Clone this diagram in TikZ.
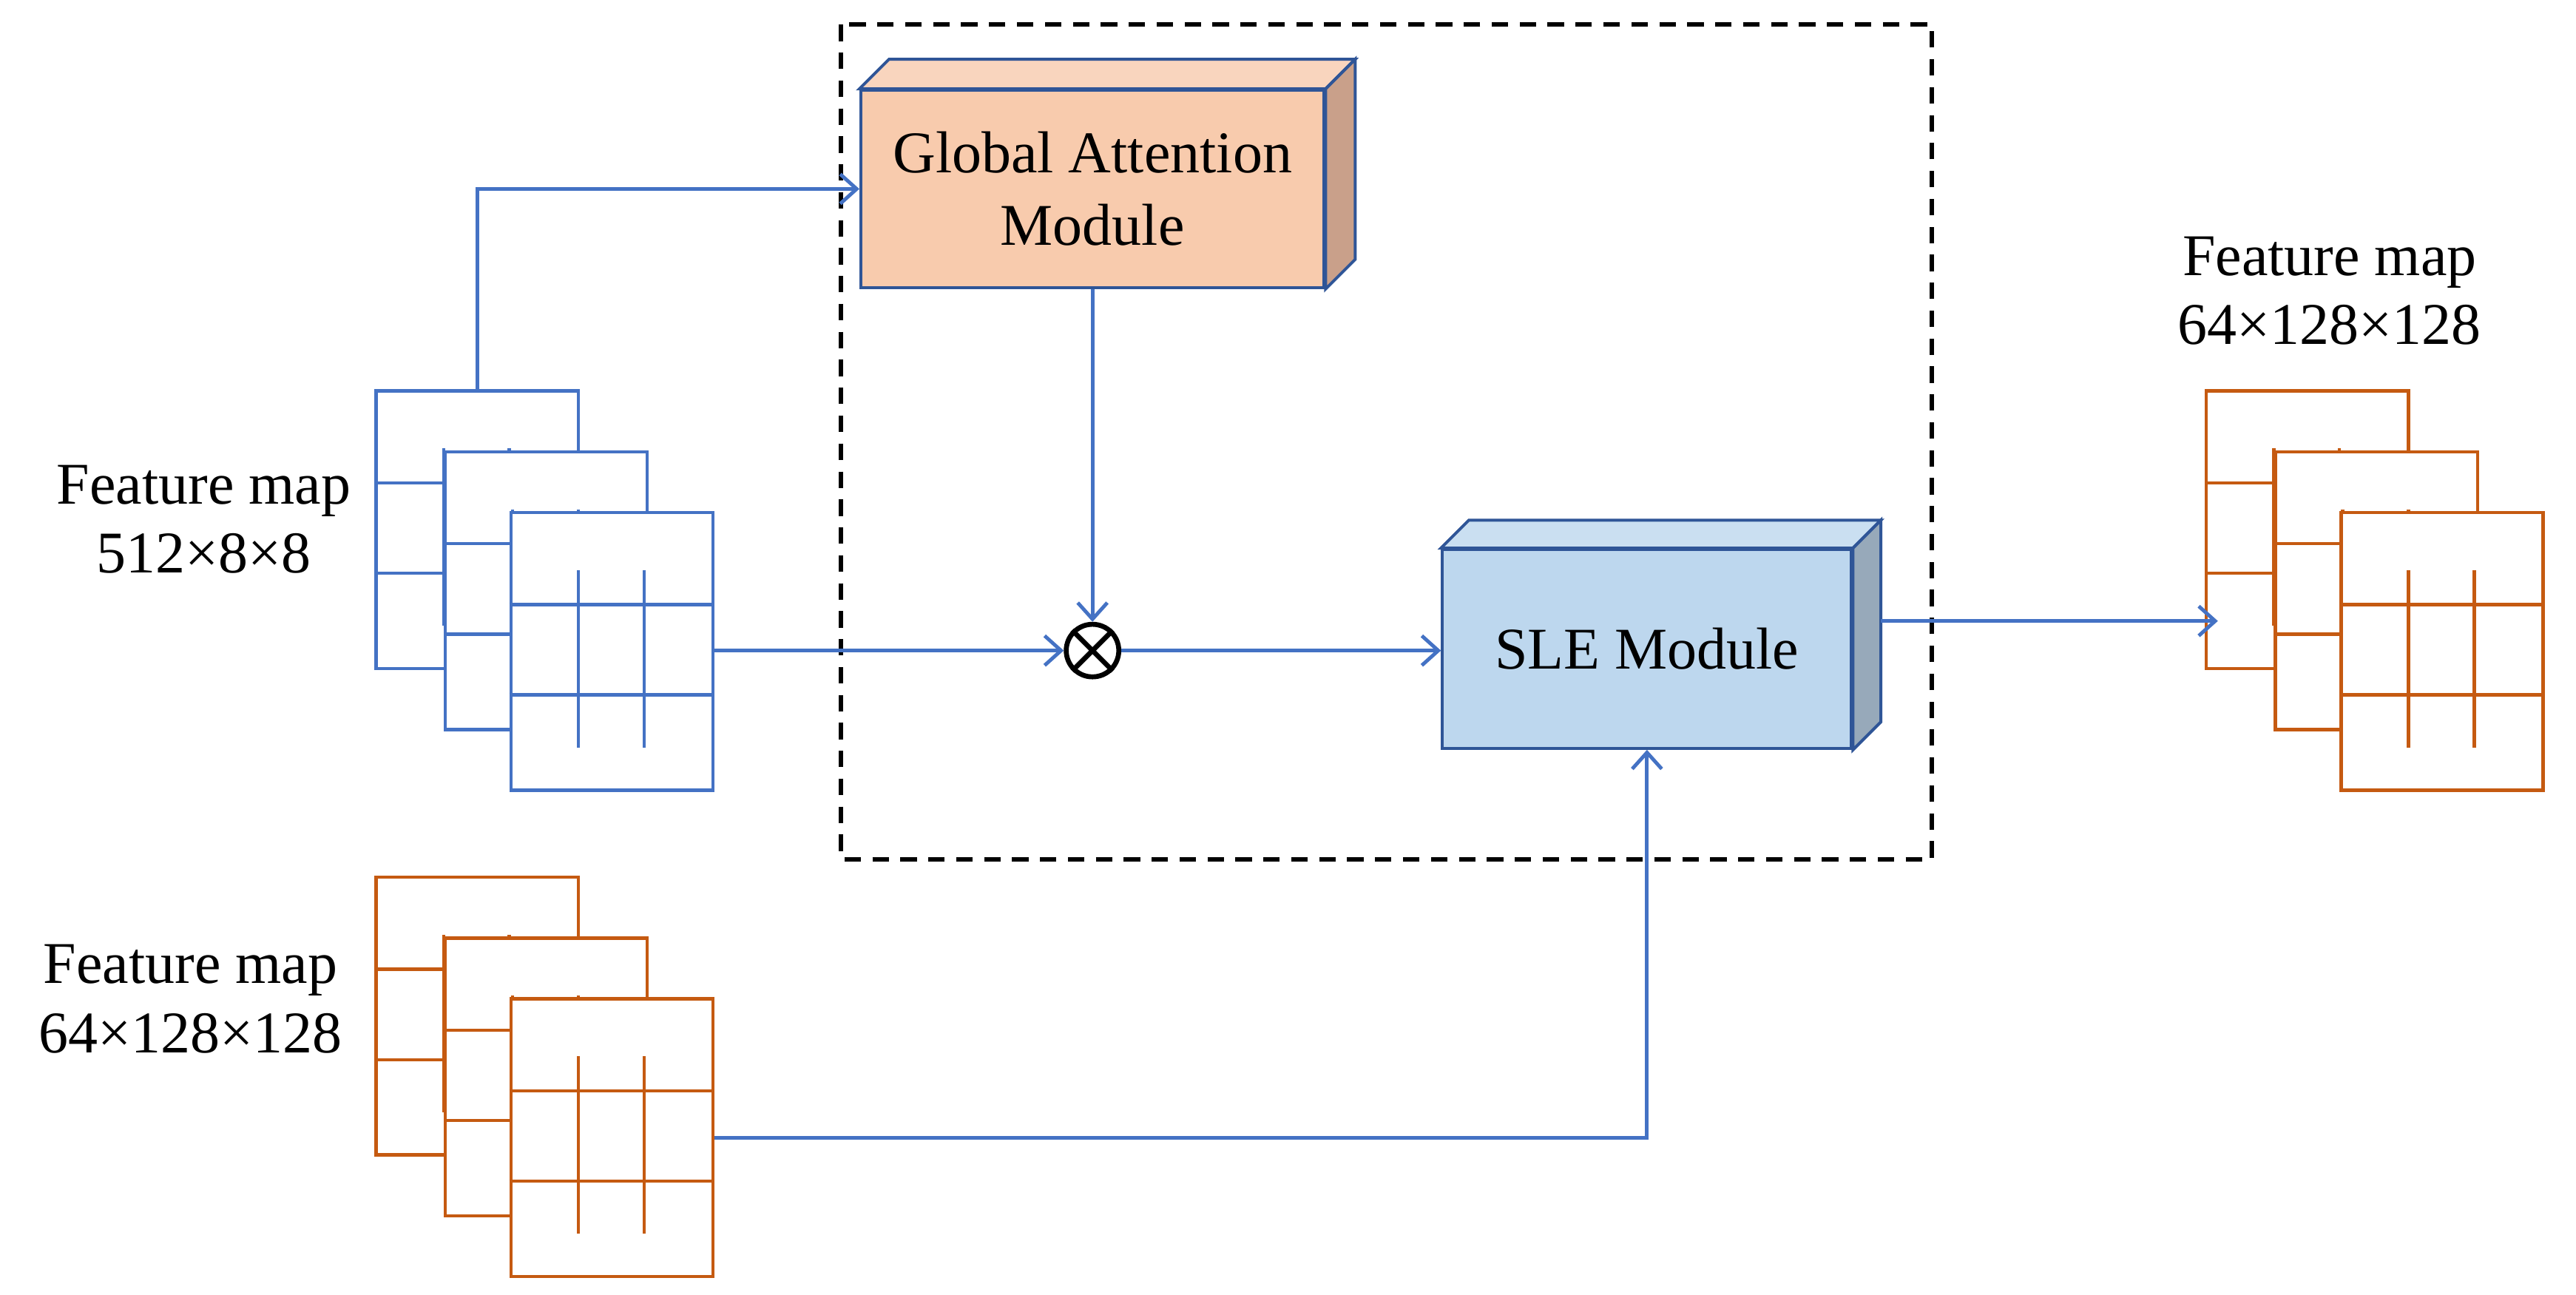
\documentclass[tikz,border=0pt]{standalone}
\usepackage{fontspec}
\setmainfont{Liberation Serif}
\usetikzlibrary{arrows.meta,calc}
\definecolor{lb}{HTML}{4472C4}
\definecolor{lo}{HTML}{C55A11}
\definecolor{bd}{HTML}{2F5597}
\definecolor{gfront}{HTML}{F8CBAD}
\definecolor{gtop}{HTML}{F9D5BE}
\definecolor{gside}{HTML}{C9A08A}
\definecolor{sfront}{HTML}{BDD7EE}
\definecolor{stop}{HTML}{CADFF1}
\definecolor{sside}{HTML}{97A9BA}
\tikzset{
  pics/fmap/.style={code={
    \foreach \n/\dx/\dy in {b/0/0,m/42/37,f/82/74}{
      \node[draw=#1, line width=1pt, fill=white, minimum width=61.5pt, minimum height=84.5pt, inner sep=0pt, anchor=north west] (-\n) at (\dx,\dy) {};
      \draw[#1, line width=1pt] (\dx,\dy+57) -- ++(123,0) (\dx,\dy+112) -- ++(123,0)
        (\dx+42,\dy+36) -- ++(0,108) (\dx+82,\dy+36) -- ++(0,108);
    }}},
  conn/.style={lb, line width=1.1pt, -{Straight Barb[length=5pt,width=9pt]}},
  box/.style={draw=bd, line width=0.9pt, inner sep=0pt, align=center, font=\fontsize{18}{22}\selectfont},
  lbl/.style={align=center, font=\fontsize{18}{21}\selectfont}
}
\begin{document}
\begin{tikzpicture}[x=0.5pt,y=-0.5pt]
\useasboundingbox (0,0) rectangle (1568,788);
% dashed box
\draw[black, line width=1.3pt, dash pattern=on 5pt off 3.5pt] (512,15) rectangle (1176,523);
% stacks
\pic (bs) at (228,237) {fmap=lb};
\pic (os) at (228,533) {fmap=lo};
\pic (rs) at (1342,237) {fmap=lo};
% GAM
\node[box, fill=gfront, minimum width=141pt, minimum height=60pt] (gam) at (665,115) {Global Attention\\Module};
\draw[bd, line width=0.9pt, fill=gtop] (gam.north west) -- ++(18,-18) -- ($(gam.north east)+(18,-18)$) -- (gam.north east) -- cycle;
\draw[bd, line width=0.9pt, fill=gside] (gam.north east) -- ++(18,-18) -- ($(gam.south east)+(18,-18)$) -- (gam.south east) -- cycle;
% SLE
\node[box, fill=sfront, minimum width=124.5pt, minimum height=60.5pt] (sle) at (1002.5,395) {SLE Module};
\draw[bd, line width=0.9pt, fill=stop] (sle.north west) -- ++(17,-17) -- ($(sle.north east)+(17,-17)$) -- (sle.north east) -- cycle;
\draw[bd, line width=0.9pt, fill=sside] (sle.north east) -- ++(17,-17) -- ($(sle.south east)+(17,-17)$) -- (sle.south east) -- cycle;
% otimes
\node[circle, draw, line width=1.5pt, minimum size=16pt, inner sep=0pt] (ot) at (665,396) {};
\draw[line width=1.5pt] (ot.north west) -- (ot.south east) (ot.north east) -- (ot.south west);
% labels
\node[lbl] (l1) at (124,316) {Feature map\\512×8×8};
\node[lbl] (l2) at (116,608) {Feature map\\64×128×128};
\node[lbl] (l3) at (1418,177) {Feature map\\64×128×128};
% connectors
\coordinate (c1) at (1350,378);
\draw[conn] (bs-b.north) |- (gam.west);
\draw[conn] (gam.south) -- (ot.north);
\draw[conn] (bs-f.east |- ot.west) -- (ot.west);
\draw[conn] (ot.east) -- (sle.west |- ot.east);
\draw[conn] ($(sle.east)+(17,-17)$) -- (c1);
\draw[conn] (os-f.east) -| (sle.south);
\end{tikzpicture}
\end{document}
